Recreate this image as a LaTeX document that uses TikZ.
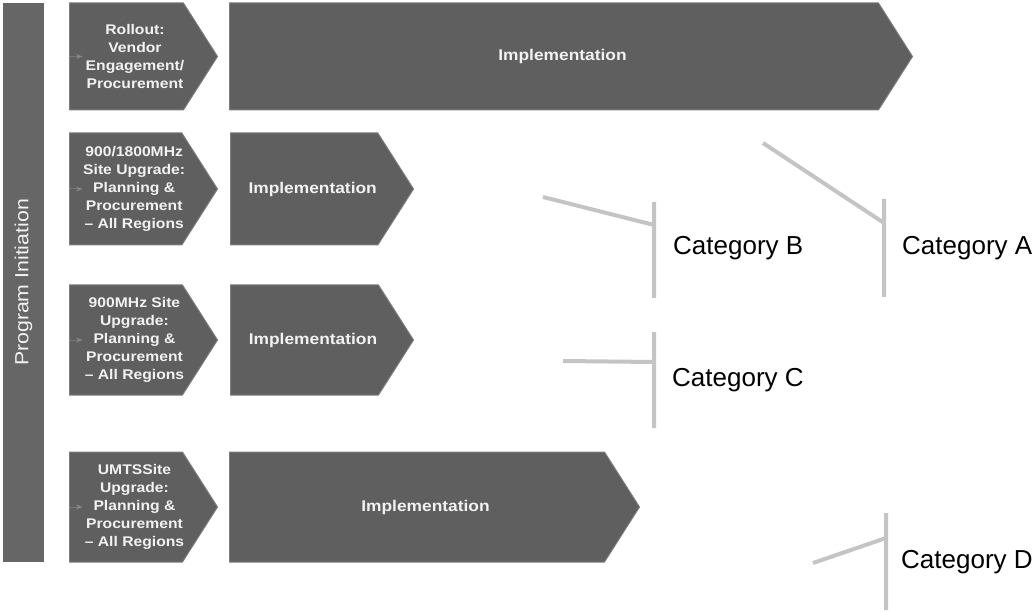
\documentclass[tikz,border=0pt]{standalone}
\usepackage{fontspec}
\setmainfont{Liberation Sans}
\newfontfamily\widefont[FakeStretch=1.12]{Liberation Sans}
\usetikzlibrary{arrows.meta,shapes.symbols}
\definecolor{boxgray}{HTML}{5F5F5F}
\definecolor{rimgray}{HTML}{7C7C7C}
\definecolor{bargray}{HTML}{666666}
\definecolor{linegray}{HTML}{C4C4C4}
\definecolor{labelwhite}{HTML}{F2F2F2}
\tikzset{
>=Stealth,
phase/.style={signal,signal to=east,signal pointer angle=115,fill=boxgray,draw=rimgray,line width=1pt,inner sep=0pt,anchor=west},
phasetext/.style={text=labelwhite,font=\widefont\bfseries\fontsize{14}{18}\selectfont,align=center},
impltext/.style={text=labelwhite,font=\widefont\bfseries\fontsize{15.5}{18}\selectfont},
bartext/.style={text=labelwhite,font=\widefont\fontsize{19}{21}\selectfont,rotate=90},
bracket/.style={draw=linegray,line width=4pt},
cattext/.style={anchor=west,font=\fontsize{26}{30}\selectfont,inner sep=0pt},
ghost/.style={->,draw=white,opacity=.15,line width=1pt}}

\begin{document}
\begin{tikzpicture}[x=1pt,y=-1pt]
\useasboundingbox (0,0) rectangle (1036,612);

\node[fill=bargray,minimum width=41pt,minimum height=559pt,inner sep=0pt] (init) at (23.5,282.5) {};
\node[bartext] (initT) at (init.center) {Program Initiation};

\node[phase,minimum width=148pt,minimum height=107pt] (roll) at (69,56.5) {};
\node[phase,minimum width=683pt,minimum height=107pt] (impl1) at (229,56.5) {};
\node[phase,minimum width=148pt,minimum height=112pt] (plan2) at (69,189) {};
\node[phase,minimum width=183pt,minimum height=112pt] (impl2) at (230,189) {};
\node[phase,minimum width=148pt,minimum height=110pt] (plan3) at (69,340) {};
\node[phase,minimum width=183pt,minimum height=110pt] (impl3) at (230,340) {};
\node[phase,minimum width=148pt,minimum height=110pt] (plan4) at (69,507) {};
\node[phase,minimum width=410pt,minimum height=110pt] (impl4) at (229,507) {};

\node[phasetext] (rollT) at ([xshift=8.5pt]roll.center) {Rollout:\\Vendor\\Engagement/\\Procurement};
\node[phasetext] (plan2T) at ([xshift=8.5pt]plan2.center) {900/1800MHz\\Site Upgrade:\\Planning \&\\Procurement\\– All Regions};
\node[phasetext] (plan3T) at ([xshift=8.5pt]plan3.center) {900MHz Site\\Upgrade:\\Planning \&\\Procurement\\– All Regions};
\node[phasetext] (plan4T) at ([xshift=8.5pt]plan4.center) {UMTSSite\\Upgrade:\\Planning \&\\Procurement\\– All Regions};
\node[impltext] (impl1T) at ([xshift=8.5pt]impl1.center) {Implementation};
\node[impltext] (impl2T) at ([xshift=8.5pt]impl2.center) {Implementation};
\node[impltext] (impl3T) at ([xshift=8.5pt]impl3.center) {Implementation};
\node[impltext] (impl4T) at ([xshift=8.5pt]impl4.center) {Implementation};

\draw[ghost] (init.east |- roll.west) -- ([xshift=14pt]roll.west);
\draw[ghost] (init.east |- plan2.west) -- ([xshift=14pt]plan2.west);
\draw[ghost] (init.east |- plan3.west) -- ([xshift=14pt]plan3.west);
\draw[ghost] (init.east |- plan4.west) -- ([xshift=14pt]plan4.west);

% category brackets
\coordinate (a1) at (884,199);
\coordinate (a2) at (884,297);
\coordinate (a3) at (763,143);
\coordinate (a4) at (884,223);
\coordinate (b1) at (654,202);
\coordinate (b2) at (654,298);
\coordinate (b3) at (543,197);
\coordinate (b4) at (654,225);
\coordinate (c1) at (654,332);
\coordinate (c2) at (654,428);
\coordinate (c3) at (563,361);
\coordinate (c4) at (654,362);
\coordinate (d1) at (886,513);
\coordinate (d2) at (886,610);
\coordinate (d3) at (813,563);
\coordinate (d4) at (886,538);

\draw[bracket] (a1) -- (a2) (a3) -- (a4);
\draw[bracket] (b1) -- (b2) (b3) -- (b4);
\draw[bracket] (c1) -- (c2) (c3) -- (c4);
\draw[bracket] (d1) -- (d2) (d3) -- (d4);

\node[cattext] (catA) at (902,248) {Category A};
\node[cattext] (catB) at (673,248) {Category B};
\node[cattext] (catC) at (672,380) {Category C};
\node[cattext] (catD) at (901,562) {Category D};

\end{tikzpicture}
\end{document}
